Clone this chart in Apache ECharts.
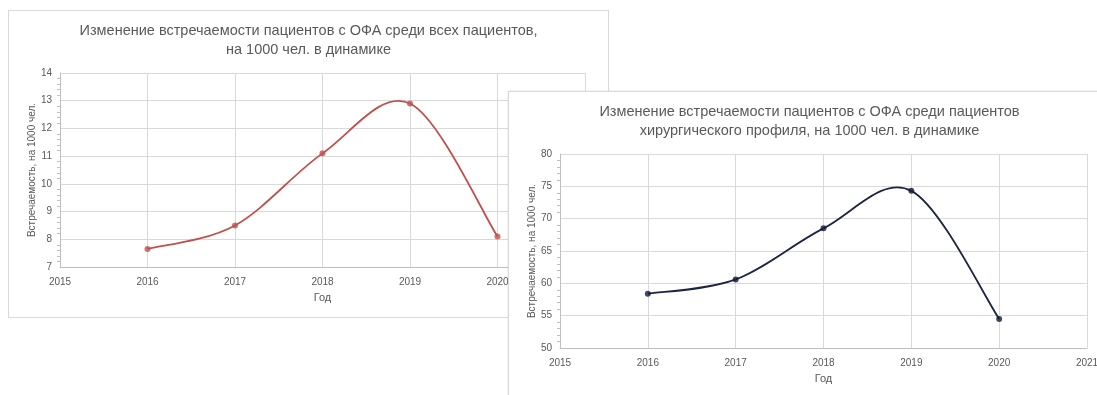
<!DOCTYPE html>
<html>
<head>
<meta charset="utf-8">
<script src="https://cdn.jsdelivr.net/npm/echarts@6/dist/echarts.min.js"></script>
<style>
  html, body { margin: 0; padding: 0; background: #ffffff; width: 1097px; height: 395px; overflow: hidden; }
  .panel { position: absolute; background: #ffffff; border: 1px solid #d9d9d9; box-sizing: border-box; }
  #allPatients { left: 8px; top: 10px; width: 601px; height: 308px; }
  #surgical { left: 508px; top: 91px; width: 603px; height: 308px; box-shadow: 0 0 2px rgba(0,0,0,0.12); }
</style>
</head>
<body>
<div id="allPatients" class="panel"></div>
<div id="surgical" class="panel"></div>
<script>
// Годы наблюдения и встречаемость ОФА на 1000 чел.
const years = [2016, 2017, 2018, 2019, 2020];
const allPatientsRate = [7.65, 8.5, 11.1, 12.9, 8.1];
const surgicalRate = [58.4, 60.6, 68.5, 74.3, 54.5];

const titleAll = 'Изменение встречаемости пациентов с ОФА среди всех пациентов,\nна 1000 чел. в динамике';
const titleSurgical = 'Изменение встречаемости пациентов с ОФА среди пациентов\nхирургического профиля, на 1000 чел. в динамике';
const xName = 'Год';
const yName = 'Встречаемость, на 1000 чел.';

const FONT = '"Liberation Sans", "DejaVu Sans", sans-serif';
const TEXT = '#595959';

// Cardinal-spline segment between points i and i+1 (spreadsheet-style smoothing)
function splineSegment(points, color) {
  return function (params, api) {
    const i = params.dataIndex;
    if (i >= points.length - 1) return null;
    const c = k => api.coord(points[Math.max(0, Math.min(points.length - 1, k))]);
    const p0 = c(i - 1), p1 = c(i), p2 = c(i + 1), p3 = c(i + 2);
    const t = 1 / 6;
    return {
      type: 'bezierCurve',
      shape: {
        x1: p1[0], y1: p1[1], x2: p2[0], y2: p2[1],
        cpx1: p1[0] + (p2[0] - p0[0]) * t, cpy1: p1[1] + (p2[1] - p0[1]) * t,
        cpx2: p2[0] - (p3[0] - p1[0]) * t, cpy2: p2[1] - (p3[1] - p1[1]) * t
      },
      style: { stroke: color, lineWidth: 1.8, fill: null },
      silent: true
    };
  };
}

function buildOption(title, values, yMin, yMax, yStep, color, markerColor) {
  const points = years.map((y, i) => [y, values[i]]);
  return {
    animation: false,
    textStyle: { fontFamily: FONT },
    title: {
      text: title,
      left: 'center',
      top: 5,
      textStyle: { fontFamily: FONT, fontSize: 14.5, fontWeight: 'normal', color: TEXT, lineHeight: 19 }
    },
    grid: { left: 51, right: 23, top: 62, bottom: 50, containLabel: false },
    xAxis: {
      type: 'value',
      min: 2015, max: 2021, interval: 1,
      name: xName,
      nameLocation: 'middle',
      nameGap: 25,
      nameMoveOverlap: false,
      nameTextStyle: { fontSize: 11, color: TEXT },
      axisLine: { show: true, lineStyle: { color: '#bfbfbf', width: 1 } },
      axisTick: { show: false },
      axisLabel: { fontSize: 10, color: TEXT, margin: 10, formatter: v => String(v) },
      splitLine: { show: true, lineStyle: { color: '#d9d9d9', width: 1 } }
    },
    yAxis: {
      type: 'value',
      min: yMin, max: yMax, interval: yStep,
      name: yName,
      nameLocation: 'middle',
      nameGap: 23,
      nameMoveOverlap: false,
      nameTextStyle: { fontSize: 10, color: TEXT },
      axisLine: { show: true, lineStyle: { color: '#bfbfbf', width: 1 } },
      axisTick: { show: false },
      minorTick: { show: true, splitNumber: 5, length: 3, lineStyle: { color: '#bfbfbf' } },
      axisLabel: { fontSize: 10, color: TEXT, margin: 8 },
      splitLine: { show: true, lineStyle: { color: '#d9d9d9', width: 1 } }
    },
    series: [
      {
        type: 'custom',
        data: points,
        renderItem: splineSegment(points, color),
        z: 2
      },
      {
        type: 'scatter',
        data: points,
        symbol: 'circle',
        symbolSize: 6,
        itemStyle: { color: markerColor },
        z: 3
      }
    ]
  };
}

echarts.init(document.getElementById('allPatients'))
  .setOption(buildOption(titleAll, allPatientsRate, 7, 14, 1, '#c0504d', '#c0504d'));
echarts.init(document.getElementById('surgical'))
  .setOption(buildOption(titleSurgical, surgicalRate, 50, 80, 5, '#1c2541', '#0f1d3a'));
</script>
</body>
</html>
